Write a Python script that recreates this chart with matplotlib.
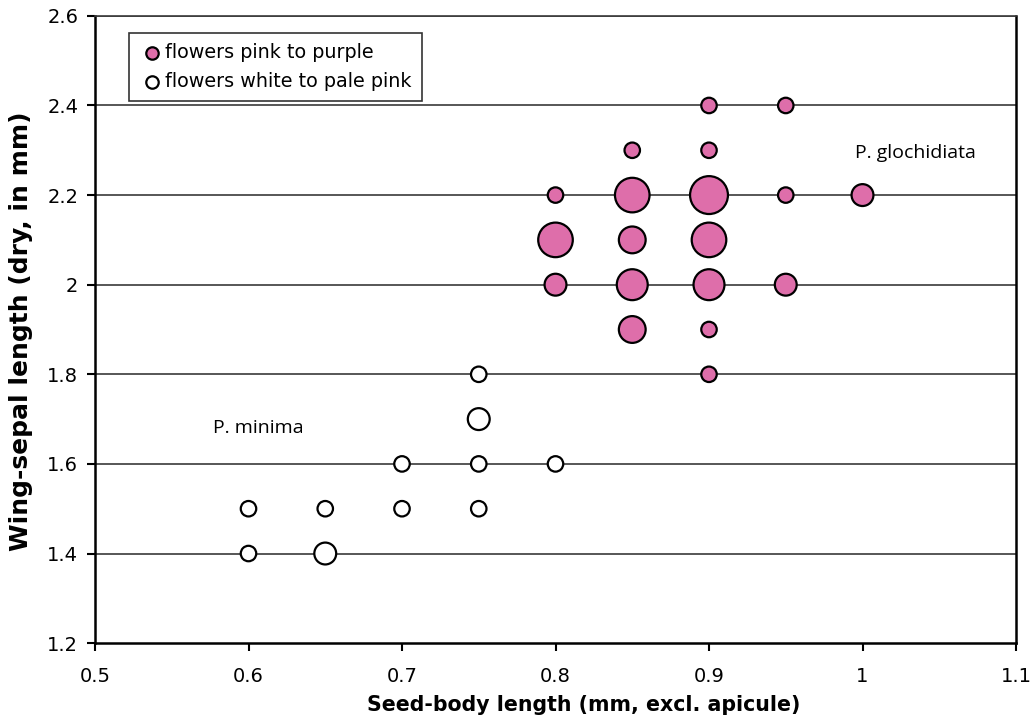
import numpy as np
import matplotlib
matplotlib.use("Agg")
import matplotlib.pyplot as plt

# pink / purple flowered (P. glochidiata)
pink_x = [0.9, 0.95, 0.85, 0.9, 0.8, 0.85, 0.9, 0.95, 1.0,
          0.8, 0.85, 0.9, 0.8, 0.85, 0.9, 0.95, 0.85, 0.9, 0.9]
pink_y = [2.4, 2.4, 2.3, 2.3, 2.2, 2.2, 2.2, 2.2, 2.2,
          2.1, 2.1, 2.1, 2.0, 2.0, 2.0, 2.0, 1.9, 1.9, 1.8]
pink_n = [1, 1, 1, 1, 1, 5, 6, 1, 2,
          5, 3, 5, 2, 4, 4, 2, 3, 1, 1]

# white / pale pink flowered (P. minima)
white_x = [0.75, 0.75, 0.7, 0.75, 0.8, 0.6, 0.65, 0.7, 0.75, 0.6, 0.65]
white_y = [1.8, 1.7, 1.6, 1.6, 1.6, 1.5, 1.5, 1.5, 1.5, 1.4, 1.4]
white_n = [1, 2, 1, 1, 1, 1, 1, 1, 1, 1, 2]

yticks = [1.2, 1.4, 1.6, 1.8, 2.0, 2.2, 2.4, 2.6]
ylabels = ["1.2", "1.4", "1.6", "1.8", "2", "2.2", "2.4", "2.6"]
xticks = [0.5, 0.6, 0.7, 0.8, 0.9, 1.0, 1.1]
xlabels = ["0.5", "0.6", "0.7", "0.8", "0.9", "1", "1.1"]

pink = "#DE6EAA"
scale = 124  # marker area (pt^2) per specimen

fig = plt.figure(figsize=(10.36, 7.21), dpi=100)
ax = fig.add_axes([0.0917, 0.108, 0.889, 0.870])

for y in yticks[1:]:
    ax.axhline(y, color="#3a3a3a", lw=1.2, zorder=1)

ax.scatter(pink_x, pink_y, s=np.array(pink_n) * scale, c=pink,
           edgecolors="black", linewidths=1.6, zorder=3,
           label="flowers pink to purple")
ax.scatter(white_x, white_y, s=np.array(white_n) * scale, c="white",
           edgecolors="black", linewidths=1.6, zorder=3,
           label="flowers white to pale pink")

ax.text(0.995, 2.295, "P. glochidiata", fontsize=14, family="Open Sans",
        va="center", ha="left")
ax.text(0.577, 1.68, "P. minima", fontsize=14, family="Open Sans",
        va="center", ha="left")

ax.set_xlim(0.5, 1.1)
ax.set_ylim(1.2, 2.6)
ax.set_xticks(xticks)
ax.set_xticklabels(xlabels)
ax.set_yticks(yticks)
ax.set_yticklabels(ylabels)
ax.tick_params(axis="both", labelsize=14, direction="out", length=6,
               width=1.5, color="black")
ax.tick_params(axis="x", pad=11)
ax.tick_params(axis="y", pad=6)

for side in ["left", "bottom", "right"]:
    ax.spines[side].set_linewidth(1.8)
    ax.spines[side].set_color("black")
ax.spines["top"].set_linewidth(1.2)
ax.spines["top"].set_color("#3a3a3a")

ax.set_xlabel("Seed-body length (mm, excl. apicule)", fontsize=14.8,
              fontweight="bold")
ax.xaxis.set_label_coords(0.531, -0.083)
ax.set_ylabel("Wing-sepal length (dry, in mm)", fontsize=18,
              fontweight="bold")
ax.yaxis.set_label_coords(-0.067, 0.497)

leg = ax.legend(loc="upper left", bbox_to_anchor=(0.037, 0.973),
                borderaxespad=0, fontsize=13.8, frameon=True, fancybox=False,
                handletextpad=0.0, borderpad=0.55, labelspacing=0.5,
                handlelength=1.3)
leg.get_frame().set_edgecolor("black")
leg.get_frame().set_linewidth(1.2)
for h in leg.legend_handles:
    h.set_sizes([80])

fig.savefig("out.png", dpi=100)
